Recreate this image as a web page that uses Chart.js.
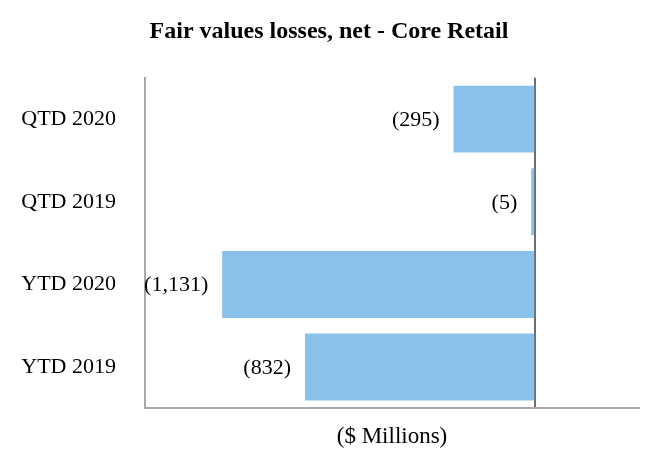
<!DOCTYPE html>
<html>
<head>
<meta charset="utf-8">
<script src="https://cdn.jsdelivr.net/npm/chart.js@4"></script>
<style>
  html, body { margin: 0; padding: 0; background: #fff; }
  #wrap { width: 666px; height: 466px; }
</style>
</head>
<body>
<div id="wrap"><canvas id="grafico"></canvas></div>
<script>
// Datos
const categorias = ['QTD 2020', 'QTD 2019', 'YTD 2020', 'YTD 2019'];
const valores = [-295, -5, -1131, -832];

// Etiquetas de valor a la izquierda de cada barra
const etiquetasValor = {
    id: 'etiquetasValor',
    afterDatasetsDraw(chart) {
        const ctx = chart.ctx;
        const meta = chart.getDatasetMeta(0);
        ctx.save();
        ctx.font = '22px "Liberation Serif"';
        ctx.fillStyle = '#000';
        ctx.textAlign = 'right';
        ctx.textBaseline = 'middle';
        meta.data.forEach((barra, i) => {
            const v = valores[i];
            const txt = '(' + Math.abs(v).toLocaleString('en-US') + ')';
            ctx.fillText(txt, barra.x - 14, barra.y + 1);
        });
        ctx.restore();
    }
};

const grafico = new Chart(document.getElementById('grafico'), {
    type: 'bar',
    data: {
        labels: categorias,
        datasets: [{
            data: valores,
            backgroundColor: '#88c1ea',
            borderWidth: 0,
            minBarLength: 4,
            categoryPercentage: 0.9,
            barPercentage: 0.9
        }]
    },
    options: {
        indexAxis: 'y',
        responsive: true,
        maintainAspectRatio: false,
        animation: false,
        layout: { padding: { left: 19, right: 27, top: 0, bottom: 15 } },
        plugins: {
            legend: { display: false },
            tooltip: { enabled: false },
            title: {
                display: true,
                text: 'Fair values losses, net - Core Retail',
                color: '#000',
                font: { family: 'Liberation Serif', size: 24, weight: 'bold' },
                padding: { top: 17, bottom: 32 }
            }
        },
        scales: {
            x: {
                min: -1410,
                max: 375,
                afterBuildTicks: (scale) => { scale.ticks = [{ value: 0 }]; },
                ticks: { display: false },
                grid: { color: '#6e6e6e', lineWidth: 2, drawTicks: false },
                border: { display: true, color: '#a8a8a8', width: 2 },
                title: {
                    display: true,
                    text: '($ Millions)',
                    color: '#000',
                    font: { family: 'Liberation Serif', size: 23 },
                    padding: { top: 15, bottom: 0 }
                }
            },
            y: {
                afterFit: (scale) => { scale.width = 126; },
                grid: { display: false, drawTicks: false },
                border: { display: true, color: '#a8a8a8', width: 2 },
                ticks: {
                    color: '#000',
                    padding: 29,
                    font: { family: 'Liberation Serif', size: 22 }
                }
            }
        }
    },
    plugins: [etiquetasValor]
});
</script>
</body>
</html>
